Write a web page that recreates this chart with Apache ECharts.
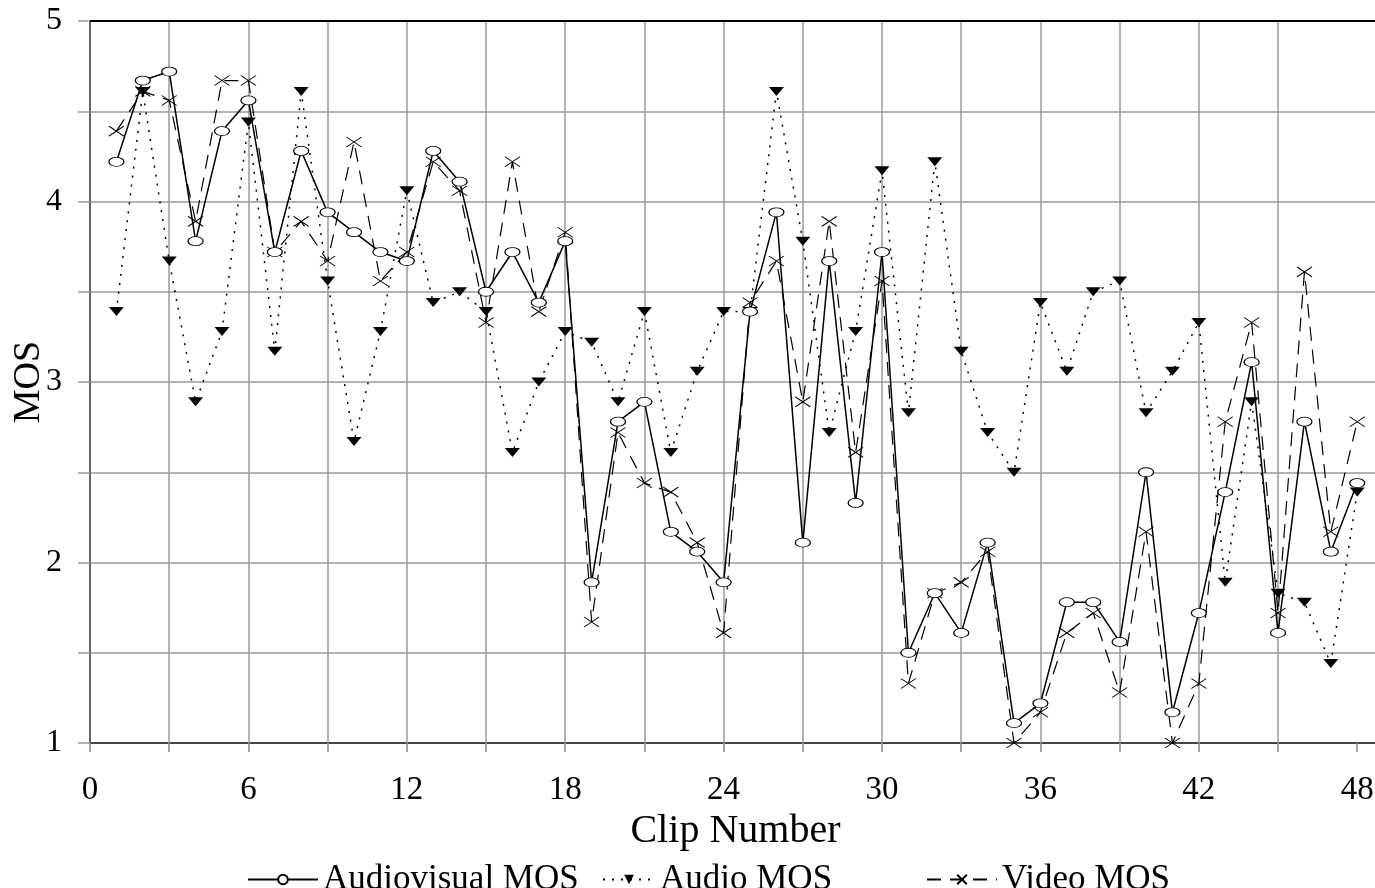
<!DOCTYPE html>
<html style="height: 100%">
<head>
    <meta charset="utf-8">
</head>
<body style="height: 100%; margin: 0; background: #fff; overflow: hidden">
<div id="container" style="width: 1381px; height: 888px"></div>
<script type="text/javascript" src="https://cdn.jsdelivr.net/npm/echarts@6/dist/echarts.min.js"></script>
<script type="text/javascript">
    // clip numbers on the x axis
    var clips = [1, 2, 3, 4, 5, 6, 7, 8, 9, 10, 11, 12, 13, 14, 15, 16, 17, 18, 19, 20, 21, 22, 23, 24,
        25, 26, 27, 28, 29, 30, 31, 32, 33, 34, 35, 36, 37, 38, 39, 40, 41, 42, 43, 44, 45, 46, 47, 48];
    var audiovisualMos = [4.22, 4.67, 4.72, 3.78, 4.39, 4.56, 3.72, 4.28, 3.94, 3.83, 3.72, 3.67,
        4.28, 4.11, 3.50, 3.72, 3.44, 3.78, 1.89, 2.78, 2.89, 2.17, 2.06, 1.89,
        3.39, 3.94, 2.11, 3.67, 2.33, 3.72, 1.50, 1.83, 1.61, 2.11, 1.11, 1.22,
        1.78, 1.78, 1.56, 2.50, 1.17, 1.72, 2.39, 3.11, 1.61, 2.78, 2.06, 2.44];
    var audioMos = [3.39, 4.61, 3.67, 2.89, 3.28, 4.44, 3.17, 4.61, 3.56, 2.67, 3.28, 4.06,
        3.44, 3.50, 3.39, 2.61, 3.00, 3.28, 3.22, 2.89, 3.39, 2.61, 3.06, 3.39,
        3.39, 4.61, 3.78, 2.72, 3.28, 4.17, 2.83, 4.22, 3.17, 2.72, 2.50, 3.44,
        3.06, 3.50, 3.56, 2.83, 3.06, 3.33, 1.89, 2.89, 1.83, 1.78, 1.44, 2.39];
    var videoMos = [4.39, 4.61, 4.56, 3.89, 4.67, 4.67, 3.72, 3.89, 3.67, 4.33, 3.56, 3.72,
        4.22, 4.06, 3.33, 4.22, 3.39, 3.83, 1.67, 2.72, 2.44, 2.39, 2.11, 1.61,
        3.44, 3.67, 2.89, 3.89, 2.61, 3.56, 1.33, 1.83, 1.89, 2.06, 1.00, 1.17,
        1.61, 1.72, 1.28, 2.17, 1.00, 1.33, 2.78, 3.33, 1.72, 3.61, 2.17, 2.78];
    var xLabels = [0, 6, 12, 18, 24, 30, 36, 42, 48];
    var yLabels = [1, 2, 3, 4, 5];
    // vertical grid lines (none at 48 in the original, just the tick)
    var xGridLines = [3, 6, 9, 12, 15, 18, 21, 24, 27, 30, 33, 36, 39, 42, 45];

    function pairs(vals) {
        return clips.map(function (c, i) { return [c, vals[i]]; });
    }

    var dom = document.getElementById("container");
    var myChart = echarts.init(dom);
    var font = 'Liberation Serif';
    var gridGray = '#9a9a9a';

    var legendText = {fontFamily: font, fontSize: 35, color: '#000'};
    option = {
        animation: false,
        backgroundColor: '#fff',
        // the plot runs a little past the right edge of the window, like the original
        grid: {left: 90, right: 0, top: 21, bottom: 145, containLabel: false, outerBoundsMode: 'none'},
        legend: [
            {data: ['Audiovisual MOS'], left: 242, top: 857, itemWidth: 70, itemHeight: 12, itemGap: 6, textStyle: legendText},
            {data: ['Audio MOS'], left: 597, top: 857, itemWidth: 52, itemHeight: 12, textStyle: legendText},
            {data: ['Video MOS'], left: 921, top: 857, itemWidth: 70, itemHeight: 12, textStyle: legendText}
        ],
        xAxis: {
            type: 'value',
            min: 0,
            max: 48.9,
            interval: 3,
            name: 'Clip Number',
            nameLocation: 'middle',
            nameGap: 64,
            nameTextStyle: {fontFamily: font, fontSize: 40, color: '#000'},
            axisLine: {lineStyle: {color: '#444', width: 2}},
            axisTick: {length: 9, lineStyle: {color: '#888', width: 1.5}},
            axisLabel: {
                margin: 31,
                fontFamily: font, fontSize: 33, color: '#000',
                showMaxLabel: false,
                formatter: function (v) { return xLabels.indexOf(v) >= 0 ? String(v) : ''; }
            },
            splitLine: {show: false}
        },
        yAxis: {
            type: 'value',
            min: 1,
            max: 5,
            interval: 0.5,
            name: 'MOS',
            nameLocation: 'middle',
            nameGap: 42,
            nameMoveOverlap: false,
            nameTextStyle: {fontFamily: font, fontSize: 38, color: '#000'},
            axisLine: {show: true, lineStyle: {color: '#666', width: 2}},
            axisTick: {show: true, length: 12, lineStyle: {color: '#999', width: 1.5}},
            axisLabel: {
                margin: 28,
                fontFamily: font, fontSize: 32, color: '#000',
                formatter: function (v) { return yLabels.indexOf(v) >= 0 ? String(v) : ''; }
            },
            splitLine: {show: true, lineStyle: {color: gridGray, width: 1.5}}
        },
        series: [
            {
                name: 'Audiovisual MOS',
                type: 'line',
                data: pairs(audiovisualMos),
                z: 4,
                symbol: 'circle',
                symbolSize: [15, 9],
                itemStyle: {color: '#fff', borderColor: '#000', borderWidth: 1},
                lineStyle: {color: '#000', width: 1.5},
                markLine: {
                    silent: true,
                    symbol: 'none',
                    z: 1,
                    label: {show: false},
                    lineStyle: {color: gridGray, width: 1.5, type: 'solid'},
                    data: xGridLines.map(function (v) { return {xAxis: v}; })
                }
            },
            {
                name: 'Audio MOS',
                type: 'line',
                data: pairs(audioMos),
                z: 3,
                symbol: 'triangle',
                symbolRotate: 180,
                symbolSize: [15, 9],
                itemStyle: {color: '#000'},
                lineStyle: {color: '#000', width: 1.5, type: [2, 7]},
                // black frame line along the top of the plot
                markLine: {
                    silent: true,
                    symbol: 'none',
                    label: {show: false},
                    lineStyle: {color: '#000', width: 2, type: 'solid'},
                    data: [{yAxis: 5}]
                }
            },
            {
                name: 'Video MOS',
                type: 'line',
                data: pairs(videoMos),
                z: 2,
                symbol: 'path://M0,0L10,10M10,0L0,10',
                symbolSize: [15, 10],
                itemStyle: {color: 'none', borderColor: '#000', borderWidth: 1},
                lineStyle: {color: '#000', width: 1.2, type: [14, 9]}
            }
        ]
    };
    if (option && typeof option === "object") {
        myChart.setOption(option, true);
    }
</script>
</body>
</html>
